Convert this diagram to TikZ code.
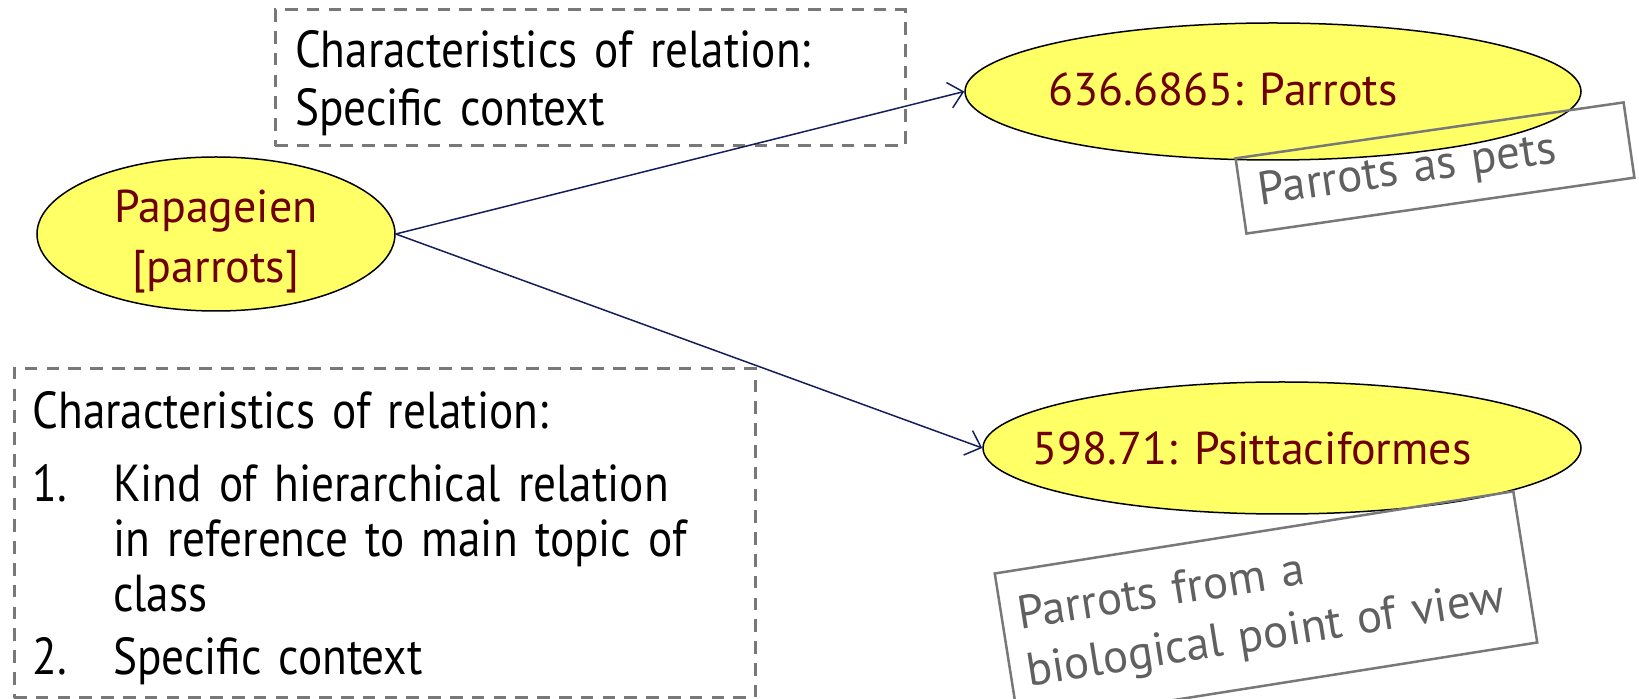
\documentclass[tikz,border=0pt]{standalone}
\usepackage{fontspec}
\setmainfont{PT Sans}
\newfontfamily\narrowfont[FakeStretch=0.87]{PT Sans}
\usetikzlibrary{arrows.meta}
\usetikzlibrary{shapes.geometric}
\usetikzlibrary{positioning}

\definecolor{topicfill}{RGB}{255,255,102}
\definecolor{topictext}{RGB}{110,0,0}
\definecolor{boxgray}{RGB}{120,120,120}
\definecolor{notegray}{RGB}{96,96,96}
\definecolor{linknavy}{RGB}{20,30,90}

\tikzset{
  topic/.style={ellipse,draw=black,line width=0.75pt,fill=topicfill,inner sep=0pt},
  topiclabel/.style={text=topictext,font=\fontsize{23}{30}\selectfont,align=center},
  charbox/.style={draw=boxgray,line width=1.5pt,dash pattern=on 6.3pt off 4.6pt,
    font=\narrowfont\fontsize{26}{27.5}\selectfont,align=left,anchor=center},
  notebox/.style={draw=boxgray,line width=1.25pt,text=notegray,
    font=\fontsize{23.5}{29}\selectfont,align=left},
  link/.style={draw=linknavy,line width=0.75pt,-{Straight Barb[length=7pt,width=13pt]}}
}

\begin{document}
\begin{tikzpicture}[x=0.5pt,y=-0.5pt]
  \useasboundingbox (0,0) rectangle (1639,699);

  \node [charbox,minimum width=315pt,minimum height=68pt,text width=295pt,
    font=\narrowfont\fontsize{26}{29}\selectfont] (ctxbox) at (590,78)
    {\rule{0pt}{23.6pt}Characteristics of relation:\\Specific context};

  \node [charbox,minimum width=370.5pt,minimum height=164pt,text width=352pt] (hierbox) at (384.5,533) {%
    \begin{tabular}{@{}p{1.55em}@{}l@{}}
    \multicolumn{2}{@{}l}{\rule{0pt}{26.6pt}Characteristics of relation:}\\[9pt]
    1. & Kind of hierarchical relation\\
       & in reference to main topic of\\
       & class\\[4pt]
    2. & Specific context
    \end{tabular}};

  \node [topic,minimum width=179pt,minimum height=77pt,
    label={[topiclabel,yshift=-4pt]center:Papageien\\{[}parrots{]}}] (papageien) at (216,234) {};
  \node [topic,minimum width=308pt,minimum height=68.5pt,
    label={[topiclabel,xshift=-25pt,yshift=1pt]center:636.6865: Parrots}] (pets) at (1273,91.5) {};
  \node [topic,minimum width=299pt,minimum height=66pt,
    label={[topiclabel,xshift=-15pt]center:598.71: Psittaciformes}] (psitt) at (1282,448) {};

  \node [notebox,rotate=8.2,minimum width=196pt,minimum height=38pt,text width=178pt] (petsnote) at (1435,168)
    {Parrots as pets};
  \node [notebox,rotate=9,minimum width=262.5pt,minimum height=76.5pt,text width=246pt] (psittnote) at (1266,608)
    {Parrots from a\\biological point of view};

  \path [link] (papageien.east) -- (pets.west);
  \path [link] (papageien.east) -- (psitt.west);
\end{tikzpicture}
\end{document}
